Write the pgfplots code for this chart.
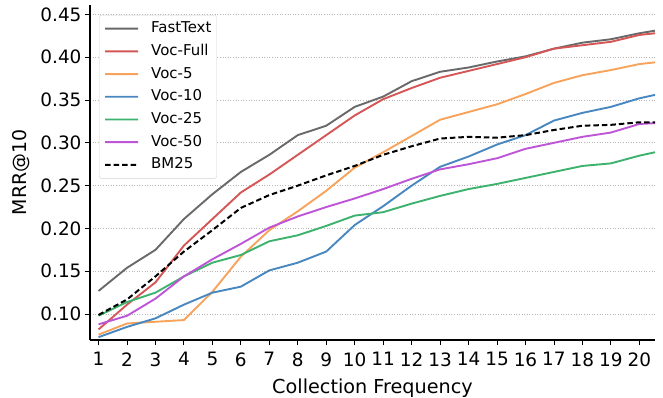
\documentclass[border=0pt]{standalone}
\usepackage{fontspec}
\setmainfont{DejaVu Sans}
\usepackage{pgfplots}
\usepackage{pgfplotstable}
\pgfplotsset{compat=1.18}
\definecolor{cgray}{RGB}{105,105,105}
\definecolor{cred}{RGB}{212,86,86}
\definecolor{corange}{RGB}{247,163,92}
\definecolor{cblue}{RGB}{72,135,192}
\definecolor{cgreen}{RGB}{60,178,110}
\definecolor{cpurple}{RGB}{190,85,215}
\pgfplotstableread{
x     ft     full   vfive  vten   vtwf   vfif   bm
1     0.127  0.082  0.076  0.073  0.098  0.088  0.099
2     0.154  0.111  0.089  0.085  0.114  0.098  0.117
3     0.175  0.137  0.091  0.095  0.125  0.118  0.144
4     0.211  0.180  0.093  0.111  0.144  0.144  0.173
5     0.240  0.211  0.126  0.125  0.160  0.164  0.198
6     0.266  0.242  0.167  0.132  0.169  0.182  0.224
7     0.286  0.263  0.198  0.151  0.185  0.201  0.239
8     0.309  0.286  0.220  0.160  0.192  0.214  0.250
9     0.320  0.309  0.244  0.173  0.203  0.225  0.262
10    0.342  0.332  0.271  0.204  0.215  0.235  0.273
11    0.354  0.351  0.289  0.226  0.219  0.246  0.286
12    0.372  0.364  0.308  0.250  0.229  0.258  0.296
13    0.383  0.376  0.327  0.272  0.238  0.269  0.305
14    0.388  0.384  0.336  0.284  0.246  0.275  0.307
15    0.395  0.392  0.345  0.298  0.252  0.282  0.306
16    0.401  0.400  0.357  0.309  0.259  0.293  0.309
17    0.410  0.410  0.370  0.326  0.266  0.300  0.315
18    0.417  0.414  0.379  0.335  0.273  0.307  0.320
19    0.421  0.418  0.385  0.342  0.276  0.312  0.321
20    0.428  0.426  0.392  0.352  0.285  0.322  0.324
20.55 0.431  0.428  0.394  0.356  0.289  0.323  0.324
}\data
\tikzset{sline/.style={line width=1.9bp, line join=round, line cap=butt}}
\begin{document}
\begin{tikzpicture}
\useasboundingbox (-90bp,-58bp) rectangle (573bp,340bp);
\begin{axis}[
  at={(0,0)}, anchor=south west,
  width=565bp, height=335bp, scale only axis,
  xmin=0.7, xmax=20.55, ymin=0.0697, ymax=0.461,
  axis x line*=bottom, axis y line*=left,
  axis line style={-, line width=1.1bp, black},
  xtick={1,...,20},
  ytick={0.10,0.15,0.20,0.25,0.30,0.35,0.40,0.45},
  yticklabel style={/pgf/number format/.cd, fixed, fixed zerofill, precision=2},
  xticklabel style={yshift=-4bp},
  /pgf/number format/assume math mode=true,
  tick align=outside, major tick length=5bp,
  tick style={line width=0.9bp, black},
  ymajorgrids,
  grid style={dash pattern=on 1bp off 1.6bp, line width=0.8bp, black!28},
  tick label style={font=\fontsize{18.5}{22}\selectfont},
  no markers,
  legend style={at={(0,1)}, xshift=9bp, yshift=-10bp, anchor=north west,
    draw=black!18, fill=white, rounded corners=2bp,
    inner xsep=5bp, inner ysep=6bp, row sep=7.7bp, column sep=12bp,
    font=\fontsize{15}{18}\selectfont,
    nodes={inner sep=0pt, text height=11.5bp, text depth=3.5bp}},
  legend cell align=left,
  legend image code/.code={\draw[#1] (0bp,0bp) -- (16.5bp,0.05bp) -- (33bp,0bp);},
]
\addplot[sline, cgray] table[x=x,y=ft] {\data};
\addlegendentry{FastText}
\addplot[sline, cred] table[x=x,y=full] {\data};
\addlegendentry{Voc-Full}
\addplot[sline, corange] table[x=x,y=vfive] {\data};
\addlegendentry{Voc-5}
\addplot[sline, cblue] table[x=x,y=vten] {\data};
\addlegendentry{Voc-10}
\addplot[sline, cgreen] table[x=x,y=vtwf] {\data};
\addlegendentry{Voc-25}
\addplot[sline, cpurple] table[x=x,y=vfif] {\data};
\addlegendentry{Voc-50}
\addplot[sline, black, line width=2bp, dash pattern=on 5.5bp off 3bp] table[x=x,y=bm] {\data};
\addlegendentry{BM25}
\end{axis}
\node[rotate=90, font=\fontsize{19}{23}\selectfont, anchor=center] at (-69bp,167.5bp) {MRR@10};
\node[font=\fontsize{19.3}{23}\selectfont, anchor=base] at (282.5bp,-53bp) {Collection Frequency};
\end{tikzpicture}
\end{document}
